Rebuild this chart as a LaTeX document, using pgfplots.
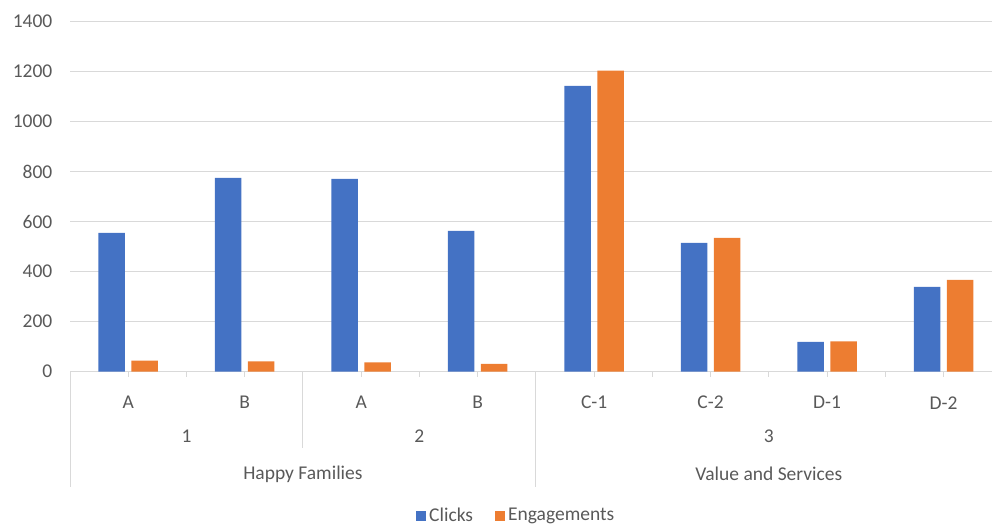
\documentclass[border=0pt]{standalone}
\usepackage{fontspec}
\setmainfont{Carlito}
\usepackage{pgfplots}
\pgfplotsset{compat=1.18}
\definecolor{clicks}{HTML}{4472C4}
\definecolor{engage}{HTML}{ED7D31}
\definecolor{txt}{HTML}{595959}
\definecolor{gridc}{HTML}{D9D9D9}

\begin{document}
\fontsize{19.5bp}{23bp}\selectfont
\begin{tikzpicture}
\useasboundingbox (0bp,0bp) rectangle (992bp,525bp);
\begin{axis}[
  at={(70bp,153.3bp)}, anchor=south west,
  scale only axis, width=922bp, height=350bp,
  ybar=6.5bp, bar width=26.5bp,
  xmin=-0.5, xmax=7.416, ymin=0, ymax=1400,
  ytick={0,200,...,1400},
  xtick={0,...,7},
  xticklabels={A,B,A,B,C-1,C-2,D-1,D-2},
  minor xtick={0.5,2.5,4.5,5.5,6.5},
  xtick pos=lower, tick align=outside,
  major tick length=5bp, minor tick length=5bp,
  xtick style={gridc, line width=1bp},
  ytick style={draw=none},
  axis line style={draw=none},
  ymajorgrids, grid style={gridc, line width=1bp},
  tick label style={text=txt},
  /pgf/number format/assume math mode=true,
  /pgf/number format/1000 sep={},
  xticklabel style={anchor=center, yshift=-26bp},
  yticklabel style={anchor=east, xshift=-6bp},
  clip=false,
  legend style={at={(0.484,0)}, anchor=center, yshift=-144.3bp, draw=none,
    text=txt, fill=none, legend columns=-1, nodes={inner sep=2bp},
    /tikz/every even column/.append style={column sep=20bp},
    /tikz/every odd column/.append style={column sep=1bp}},
  legend image code/.code={\fill[#1] (0bp,-5bp) rectangle (10bp,5bp);},
]
\addplot[fill=clicks, draw=none] coordinates {
  (0,555) (1,775) (2,771) (3,563) (4,1143) (5,515) (6,119) (7,339)};
\addplot[fill=engage, draw=none] coordinates {
  (0,44) (1,41) (2,37) (3,31) (4,1204) (5,535) (6,121) (7,367)};
\legend{Clicks, Engagements}
\draw[gridc, line width=1bp] (axis cs:-0.5,0) -- ++(0bp,-115bp);
\draw[gridc, line width=1bp] (axis cs:1.5,0) -- ++(0bp,-76bp);
\draw[gridc, line width=1bp] (axis cs:3.5,0) -- ++(0bp,-115bp);
\node[text=txt] at (axis cs:0.5,0) [yshift=-64.5bp] {1};
\node[text=txt] at (axis cs:2.5,0) [yshift=-64.5bp] {2};
\node[text=txt] at (axis cs:5.5,0) [yshift=-64.5bp] {3};
\node[text=txt] at (axis cs:1.5,0) [yshift=-102.5bp] {Happy Families};
\node[text=txt] at (axis cs:5.5,0) [yshift=-102.5bp] {Value and Services};
\end{axis}
\end{tikzpicture}
\end{document}
